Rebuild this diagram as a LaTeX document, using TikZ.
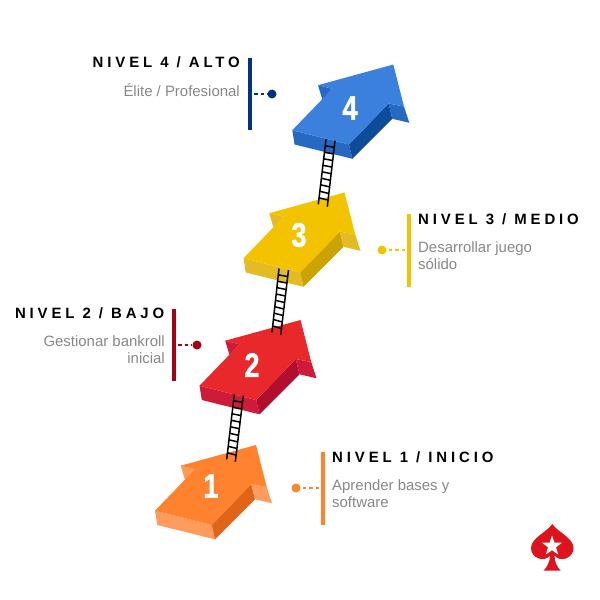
\documentclass[tikz,border=0pt]{standalone}
\usepackage{fontspec}
\setmainfont{Liberation Sans}
\newfontfamily\titlefont[LetterSpace=26,BoldFont={Liberation Sans Bold}]{Liberation Sans}
\newfontfamily\digitfont[FakeBold=1.5]{Liberation Sans Bold}
\usetikzlibrary{calc,shapes.geometric}
\definecolor{orangetop}{RGB}{255,130,46}
\definecolor{orangelight}{RGB}{255,155,92}
\definecolor{orangedark}{RGB}{224,101,26}
\definecolor{redtop}{RGB}{232,40,43}
\definecolor{redlight}{RGB}{207,26,58}
\definecolor{reddark}{RGB}{178,15,46}
\definecolor{yellowtop}{RGB}{243,195,0}
\definecolor{yellowlight}{RGB}{229,187,36}
\definecolor{yellowdark}{RGB}{204,163,0}
\definecolor{bluetop}{RGB}{58,128,220}
\definecolor{bluelight}{RGB}{38,105,195}
\definecolor{bluedark}{RGB}{13,76,154}
\definecolor{nivelfour}{RGB}{0,51,128}
\definecolor{nivelthree}{RGB}{243,195,0}
\definecolor{niveltwo}{RGB}{165,0,20}
\definecolor{nivelone}{RGB}{255,130,46}
\definecolor{spadered}{RGB}{220,20,30}
\tikzset{
  nivel/.style={inner sep=0pt,font=\titlefont\bfseries\fontsize{15}{15}\selectfont},
  desc/.style={inner sep=0pt,text=black!47,font=\fontsize{15}{17}\selectfont},
  digit/.style={inner sep=0pt,text=white,xscale=.8,transform shape,font=\digitfont\fontsize{34}{34}\selectfont},
  bar/.style={line width=3.5bp},
  lead/.style={line width=1.1bp,dash pattern=on 3.5bp off 3bp},
  dot/.style={circle,inner sep=0pt,minimum size=9bp},
  rail/.style={line width=1.5bp,black},
}
% arrow: shift, top, light, dark
\newcommand{\levelarrow}[5]{
  \begin{scope}[shift={(#1,#2)}]
  \fill [#4] (155.0,510.7) -- (211.7,525.0) -- (215.0,539.3) -- (157.3,525.0) -- cycle;
  \fill [#5] (211.7,525.0) -- (251.3,484.0) -- (255.0,499.3) -- (215.0,539.3) -- cycle;
  \fill [#4] (251.3,484.0) -- (266.7,487.0) -- (272.0,503.3) -- (255.0,499.3) -- cycle;
  \fill [#4] (180.7,465.7) -- (195.0,469.3) -- (185.0,480.0) -- cycle;
  \fill [#3] (256.0,445.0) -- (266.7,487.0) -- (251.3,484.0) -- (211.7,525.0)
    -- (155.0,510.7) -- (195.0,469.3) -- (180.7,465.7) -- cycle;
  \end{scope}
}
% ladder: four end points, number of rungs
\newcommand{\ladder}[5]{
  \draw [rail] (#1) -- (#3);
  \draw [rail] (#2) -- (#4);
  \foreach \r in {1,...,#5}
    \draw [rail] ($(#1)!\r/(#5+1)!(#3)$) -- ($(#2)!\r/(#5+1)!(#4)$);
}
\begin{document}
\begin{tikzpicture}[x=1bp,y=-1bp]
\useasboundingbox (0,0) rectangle (600,600);
%% arrows
\levelarrow{0}{0}{orangetop}{orangelight}{orangedark}
\levelarrow{44.5}{-125}{redtop}{redlight}{reddark}
\levelarrow{88.5}{-252.5}{yellowtop}{yellowlight}{yellowdark}
\levelarrow{137.3}{-380.5}{bluetop}{bluelight}{bluedark}
\node (num1) at (211,486) [digit] {1};
\node (num2) at (252,365) [digit] {2};
\node (num3) at (299,235) [digit] {3};
\node (num4) at (350,108) [digit] {4};
%% ladders
\coordinate (la1) at (234.3,394.3);
\coordinate (lb1) at (243.3,395.7);
\coordinate (lc1) at (226.7,459.3);
\coordinate (ld1) at (235.3,461.7);
\ladder{la1}{lb1}{lc1}{ld1}{9}
\coordinate (la2) at (279.0,268.5);
\coordinate (lb2) at (288.5,270.0);
\coordinate (lc2) at (272.0,332.3);
\coordinate (ld2) at (280.7,335.0);
\ladder{la2}{lb2}{lc2}{ld2}{9}
\coordinate (la3) at (326.0,139.3);
\coordinate (lb3) at (335.0,140.7);
\coordinate (lc3) at (318.3,204.3);
\coordinate (ld3) at (327.3,206.7);
\ladder{la3}{lb3}{lc3}{ld3}{9}
%% level 4
\node (title4) at (240,62) [nivel,anchor=east] {NIVEL 4 / ALTO};
\node (desc4) at (240,90) [desc,anchor=east] {Élite / Profesional};
\coordinate (bara4) at (250,58);
\coordinate (barb4) at (250,130);
\draw [bar,nivelfour] (bara4) -- (barb4);
\node (dot4) at (272,94) [dot,fill=nivelfour] {};
\coordinate (foot4) at (254,94);
\draw [lead,nivelfour] (foot4) -- (dot4);
%% level 3
\node (title3) at (418,219) [nivel,anchor=west] {NIVEL 3 / MEDIO};
\node (desc3) at (418,255.5) [desc,anchor=west,align=left] {Desarrollar juego\\sólido};
\coordinate (bara3) at (409,214);
\coordinate (barb3) at (409,287);
\draw [bar,nivelthree] (bara3) -- (barb3);
\node (dot3) at (382,250) [dot,fill=nivelthree] {};
\coordinate (foot3) at (405,250);
\draw [lead,nivelthree] (foot3) -- (dot3);
%% level 2
\node (title2) at (164.5,313) [nivel,anchor=east] {NIVEL 2 / BAJO};
\node (desc2) at (165,349.5) [desc,anchor=east,align=right] {Gestionar bankroll\\inicial};
\coordinate (bara2) at (174,309);
\coordinate (barb2) at (174,381);
\draw [bar,niveltwo] (bara2) -- (barb2);
\node (dot2) at (197,345) [dot,fill=niveltwo] {};
\coordinate (foot2) at (178,345);
\draw [lead,niveltwo] (foot2) -- (dot2);
%% level 1
\node (title1) at (332,457) [nivel,anchor=west] {NIVEL 1 / INICIO};
\node (desc1) at (332,493.5) [desc,anchor=west,align=left] {Aprender bases y\\software};
\coordinate (bara1) at (323,452);
\coordinate (barb1) at (323,525);
\draw [bar,nivelone] (bara1) -- (barb1);
\node (dot1) at (296,488) [dot,fill=nivelone] {};
\coordinate (foot1) at (319,488);
\draw [lead,nivelone] (foot1) -- (dot1);
%% logo
\fill [spadered] (552.3,524) .. controls (547,532) and (531,538) .. (531,548)
  .. controls (531,558) and (544,563) .. (550,555.5)
  .. controls (550,562) and (547,567) .. (543.5,570.7) -- (560.7,570.7)
  .. controls (557,567) and (554.5,562) .. (554.5,555.5)
  .. controls (560.5,563) and (573.5,558) .. (573.5,548)
  .. controls (573.5,538) and (557.5,532) .. (552.3,524) -- cycle;
\node (logostar) at (552,546) [star,star points=5,star point ratio=2.5,fill=white,inner sep=0pt,minimum size=21bp] {};
\end{tikzpicture}
\end{document}
